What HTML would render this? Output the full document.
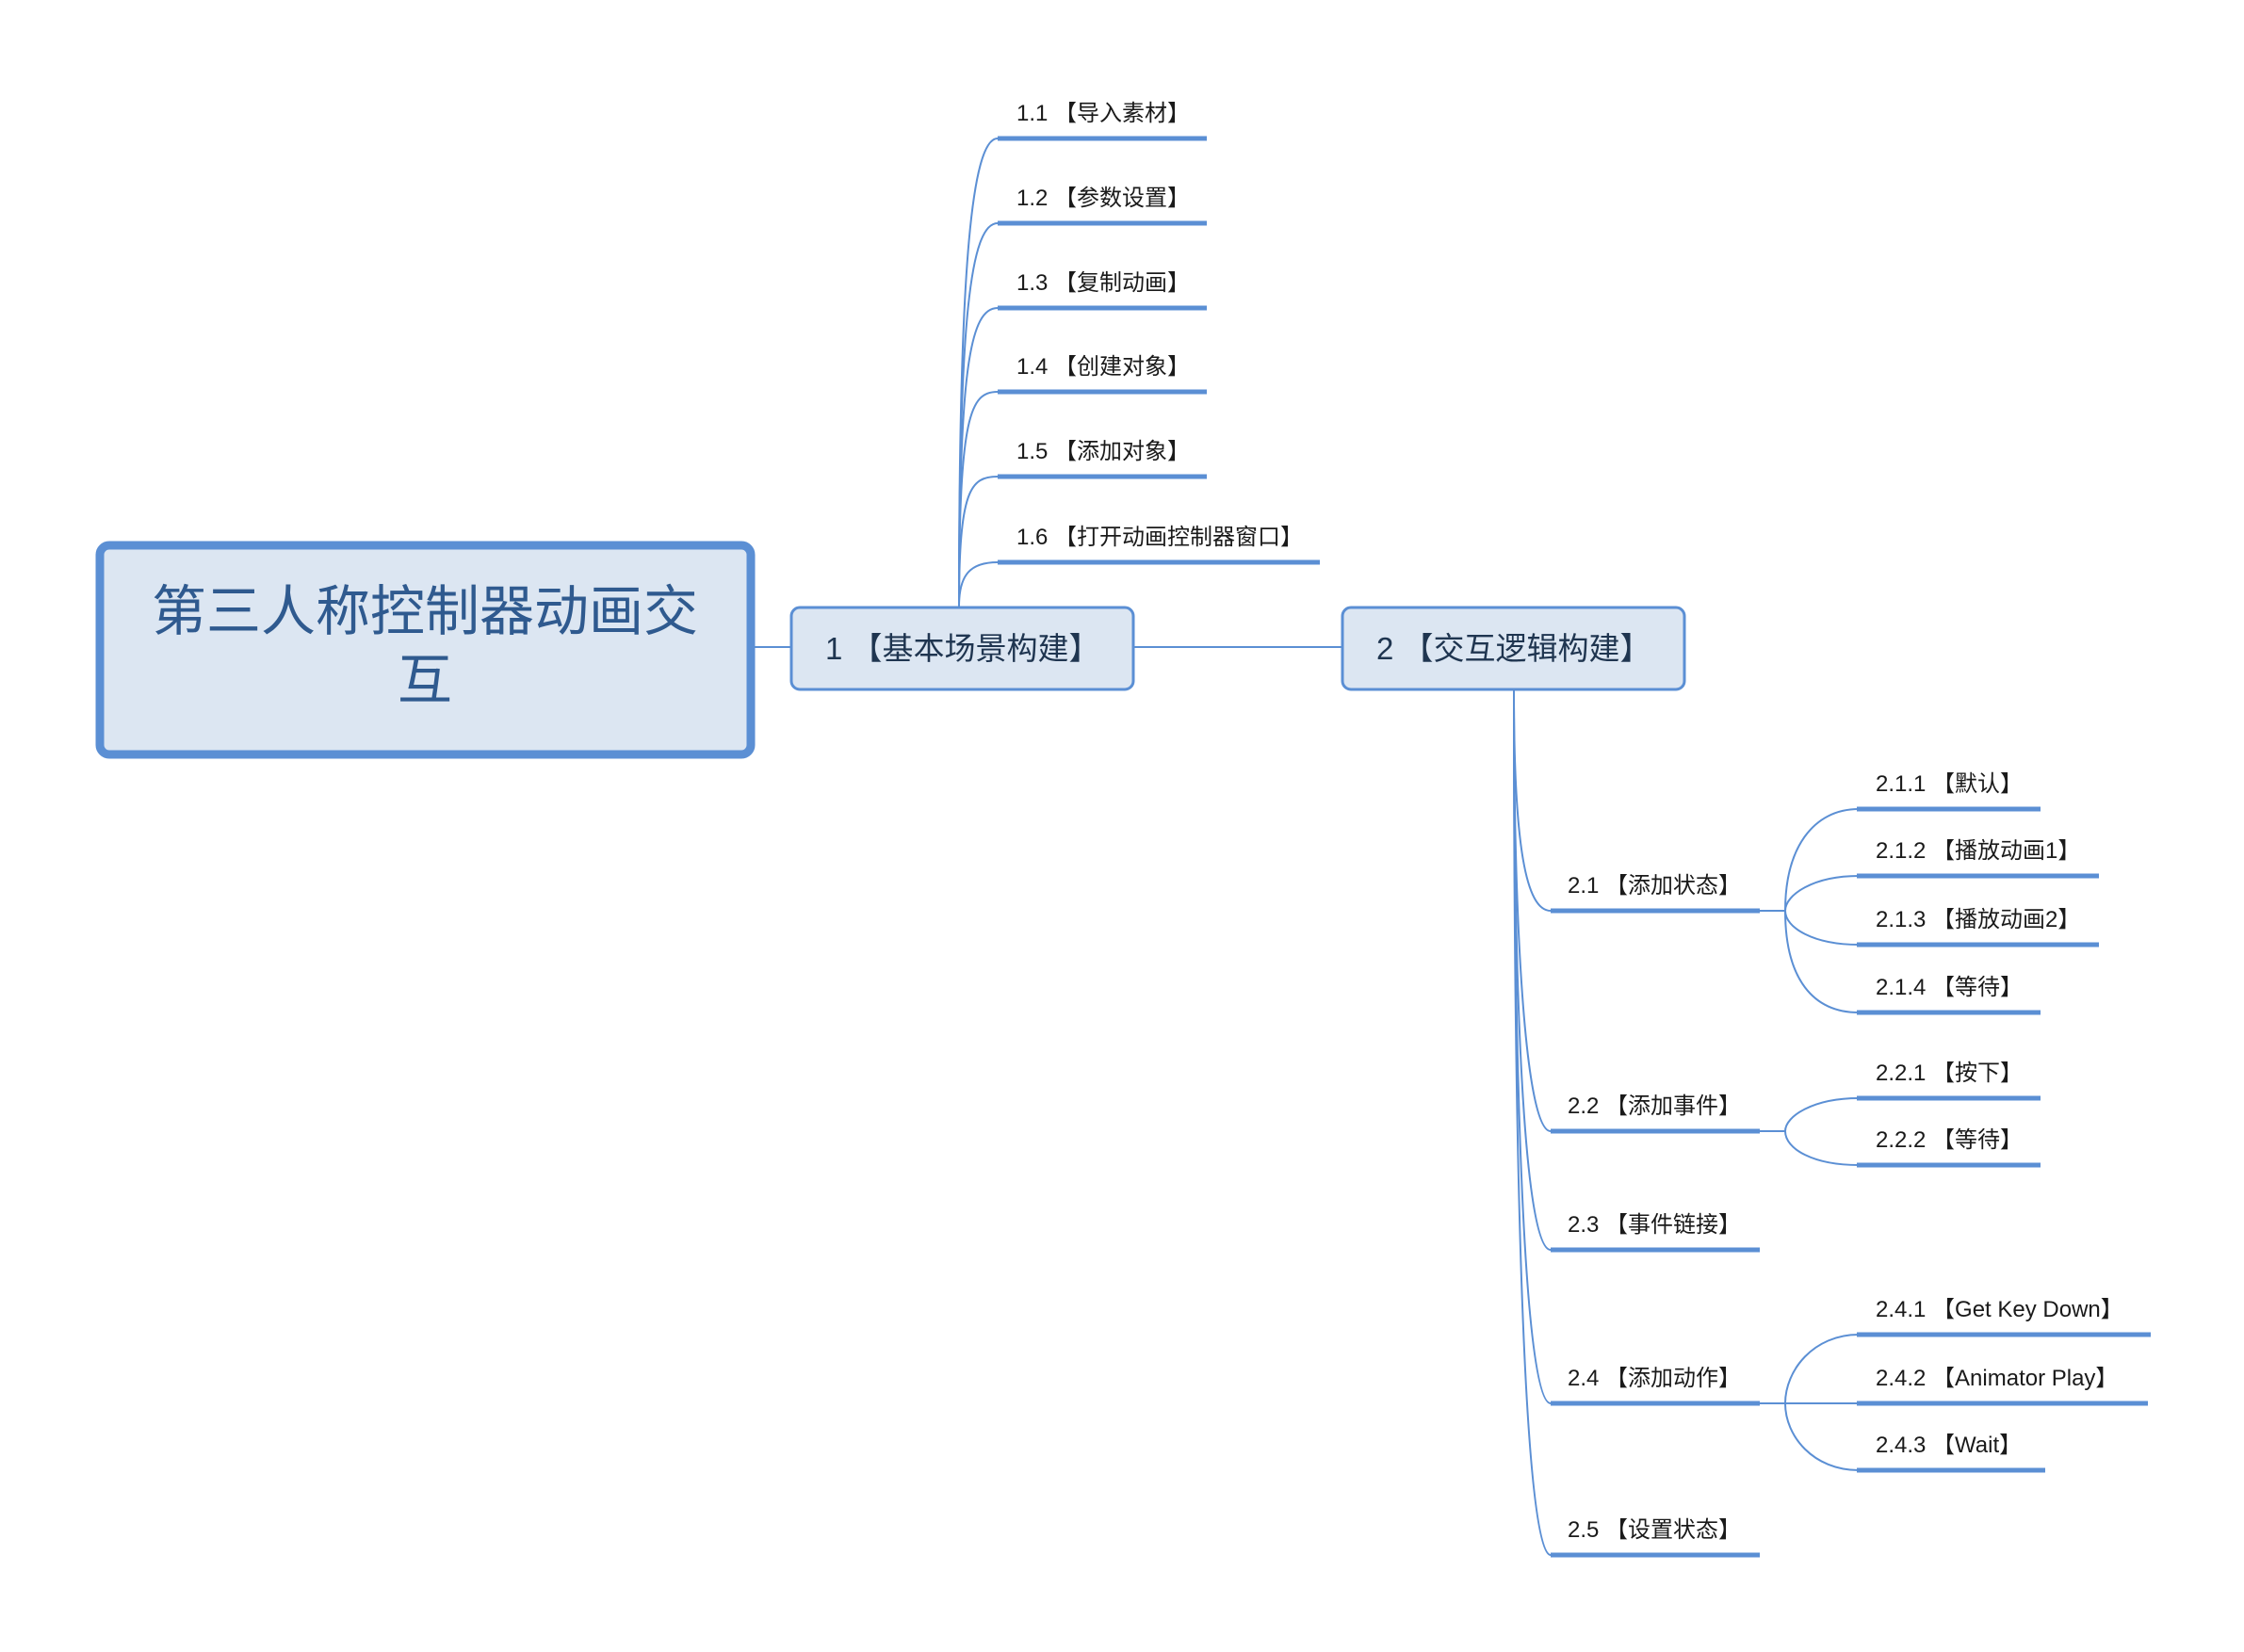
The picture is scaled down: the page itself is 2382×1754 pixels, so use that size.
<!DOCTYPE html>
<html><head><meta charset="utf-8"><style>
html,body{margin:0;padding:0;background:#fff;}
svg{display:block;}
text{font-family:"Liberation Sans","Noto Sans CJK SC",sans-serif;fill:#1a1a1a;}
</style></head><body>
<svg width="2382" height="1754" viewBox="0 0 2382 1754" xmlns="http://www.w3.org/2000/svg">
<g fill="none" stroke="#5b8fd4" stroke-width="2">
<line x1="800" y1="687" x2="839" y2="687"/>
<line x1="1204" y1="687" x2="1424" y2="687"/>
<path d="M1018 644 C1018 300 1030 147 1059 147"/>
<path d="M1018 644 C1018 340 1030 237 1059 237"/>
<path d="M1018 644 C1018 390 1030 327 1059 327"/>
<path d="M1018 644 C1018 440 1030 416 1059 416"/>
<path d="M1018 644 C1018 520 1030 506 1059 506"/>
<path d="M1018 644 C1018 610 1030 597 1059 597"/>
<path d="M1607 733 C1607 900 1620 967 1646 967"/>
<path d="M1607 733 C1607 1000 1620 1201 1646 1201"/>
<path d="M1607 733 C1607 1100 1620 1327 1646 1327"/>
<path d="M1607 733 C1607 1200 1620 1490 1646 1490"/>
<path d="M1607 733 C1607 1300 1620 1651 1646 1651"/>
<line x1="1868" y1="967" x2="1895" y2="967"/>
<line x1="1868" y1="1201" x2="1895" y2="1201"/>
<line x1="1868" y1="1490" x2="1895" y2="1490"/>
<path d="M1895 967 C1895 900 1925 859 1973 859"/>
<path d="M1895 967 C1895 950 1925 930 1973 930"/>
<path d="M1895 967 C1895 985 1925 1003 1973 1003"/>
<path d="M1895 967 C1895 1040 1925 1075 1973 1075"/>
<path d="M1895 1201 C1895 1185 1925 1166 1973 1166"/>
<path d="M1895 1201 C1895 1220 1925 1237 1973 1237"/>
<path d="M1895 1490 C1895 1455 1925 1417 1973 1417"/>
<line x1="1895" y1="1490" x2="1973" y2="1490"/>
<path d="M1895 1490 C1895 1525 1925 1561 1973 1561"/>
</g>
<g stroke="#5b8fd4" stroke-width="5">
<line x1="1059" y1="147" x2="1281" y2="147"/>
<line x1="1059" y1="237" x2="1281" y2="237"/>
<line x1="1059" y1="327" x2="1281" y2="327"/>
<line x1="1059" y1="416" x2="1281" y2="416"/>
<line x1="1059" y1="506" x2="1281" y2="506"/>
<line x1="1059" y1="597" x2="1401" y2="597"/>
<line x1="1646" y1="967" x2="1868" y2="967"/>
<line x1="1646" y1="1201" x2="1868" y2="1201"/>
<line x1="1646" y1="1327" x2="1868" y2="1327"/>
<line x1="1646" y1="1490" x2="1868" y2="1490"/>
<line x1="1646" y1="1651" x2="1868" y2="1651"/>
<line x1="1971" y1="859" x2="2166" y2="859"/>
<line x1="1971" y1="930" x2="2228" y2="930"/>
<line x1="1971" y1="1003" x2="2228" y2="1003"/>
<line x1="1971" y1="1075" x2="2166" y2="1075"/>
<line x1="1971" y1="1166" x2="2166" y2="1166"/>
<line x1="1971" y1="1237" x2="2166" y2="1237"/>
<line x1="1971" y1="1417" x2="2283" y2="1417"/>
<line x1="1971" y1="1490" x2="2280" y2="1490"/>
<line x1="1971" y1="1561" x2="2171" y2="1561"/>
</g>
<rect x="106" y="579" width="691" height="222" rx="10" fill="#dce6f2" stroke="#5b8fd4" stroke-width="9"/>
<rect x="840" y="645" width="363" height="87" rx="9" fill="#dce6f2" stroke="#5b8fd4" stroke-width="3"/>
<rect x="1425" y="645" width="363" height="87" rx="9" fill="#dce6f2" stroke="#5b8fd4" stroke-width="3"/>
<text x="451" y="669" font-size="58" text-anchor="middle" style="fill:#2f5a8f">第三人称控制器动画交</text>
<text x="451" y="742" font-size="58" text-anchor="middle" style="fill:#2f5a8f">互</text>
<text x="876" y="700" font-size="33" style="fill:#1f3550">1 【基本场景构建】</text>
<text x="1461" y="700" font-size="33" style="fill:#1f3550">2 【交互逻辑构建】</text>
<g font-size="24">
<text x="1079" y="128">1.1 【导入素材】</text>
<text x="1079" y="218">1.2 【参数设置】</text>
<text x="1079" y="308">1.3 【复制动画】</text>
<text x="1079" y="397">1.4 【创建对象】</text>
<text x="1079" y="487">1.5 【添加对象】</text>
<text x="1079" y="578">1.6 【打开动画控制器窗口】</text>
<text x="1664" y="948">2.1 【添加状态】</text>
<text x="1664" y="1182">2.2 【添加事件】</text>
<text x="1664" y="1308">2.3 【事件链接】</text>
<text x="1664" y="1471">2.4 【添加动作】</text>
<text x="1664" y="1632">2.5 【设置状态】</text>
<text x="1991" y="840">2.1.1 【默认】</text>
<text x="1991" y="911">2.1.2 【播放动画1】</text>
<text x="1991" y="984">2.1.3 【播放动画2】</text>
<text x="1991" y="1056">2.1.4 【等待】</text>
<text x="1991" y="1147">2.2.1 【按下】</text>
<text x="1991" y="1218">2.2.2 【等待】</text>
<text x="1991" y="1398">2.4.1 【Get Key Down】</text>
<text x="1991" y="1471">2.4.2 【Animator Play】</text>
<text x="1991" y="1542">2.4.3 【Wait】</text>
</g>
</svg>
</body></html>
